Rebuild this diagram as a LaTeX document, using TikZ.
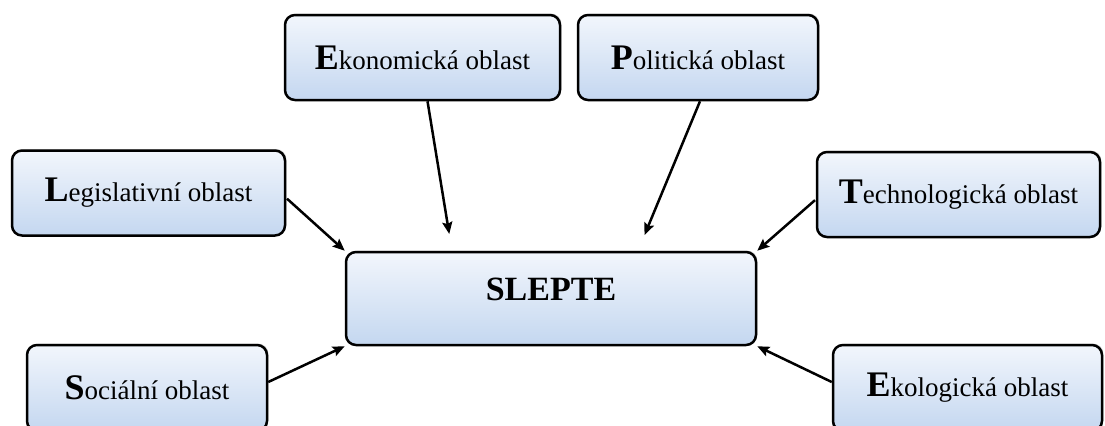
\documentclass[tikz,border=0pt]{standalone}
\usepackage{fontspec}
\setmainfont{Liberation Serif}
\usetikzlibrary{positioning, arrows, arrows.meta, shadows}
\definecolor{boxtop}{RGB}{196,215,240}
\definecolor{boxbottom}{RGB}{242,246,252}
\tikzset{>={Stealth[length=6pt, width=5pt, inset=1pt]},
% the y axis points down here, so the shading is given upside down
area/.style={draw, line width=1.25pt, rounded corners=5pt,
  top color=boxbottom, bottom color=boxtop,
  drop shadow={shadow xshift=0.7pt, shadow yshift=0.7pt, fill=black!35},
  font=\fontsize{13.5}{16}\selectfont, inner sep=0pt},
link/.style={->, line width=1.25pt},
}
\newcommand{\first}[1]{\textbf{\fontsize{18}{18}\selectfont #1}}

\begin{document}
\begin{tikzpicture}[x=0.5pt, y=-0.5pt]
    \clip (0,0) rectangle (1105,425);
        \node[area, minimum width=205pt, minimum height=46.5pt] (slepte) at (551,298.5) {};
        \node[font=\fontsize{17}{20}\selectfont\bfseries] (slepteText) at (551,289) {SLEPTE};
        \node[area, minimum width=137.5pt, minimum height=42.5pt] (eko) at (422.5,57.5) {\first{E}konomická oblast};
        \node[area, minimum width=120pt, minimum height=42.5pt] (pol) at (698,57.5) {\first{P}olitická oblast};
        \node[area, minimum width=136.5pt, minimum height=42.5pt] (leg) at (148.5,193) {\first{L}egislativní oblast};
        \node[area, minimum width=141.5pt, minimum height=42.5pt] (tech) at (958.5,194.5) {\first{T}echnologická oblast};
        \node[area, minimum width=120pt, minimum height=43pt] (soc) at (147,388) {\first{S}ociální oblast};
        \node[area, minimum width=134.5pt, minimum height=43pt] (ekol) at (967.5,388) {\first{E}kologická oblast};
        \draw[link, shorten >=8.5pt] ([xshift=2.5pt]eko.south) -- ([xshift=-49.5pt]slepte.north);
        \draw[link, shorten >=8.5pt] ([xshift=1pt]pol.south) -- ([xshift=43.5pt]slepte.north);
        \draw[link, shorten <=0.5pt] ([yshift=-2.5pt]leg.east) -- (slepte.north west);
        \draw[link, shorten <=0.5pt] ([yshift=-2.5pt]tech.west) -- (slepte.north east);
        \draw[link] ([yshift=3pt]soc.east) -- (slepte.south west);
        \draw[link] ([yshift=3pt]ekol.west) -- (slepte.south east);
    \end{tikzpicture}
\end{document}
